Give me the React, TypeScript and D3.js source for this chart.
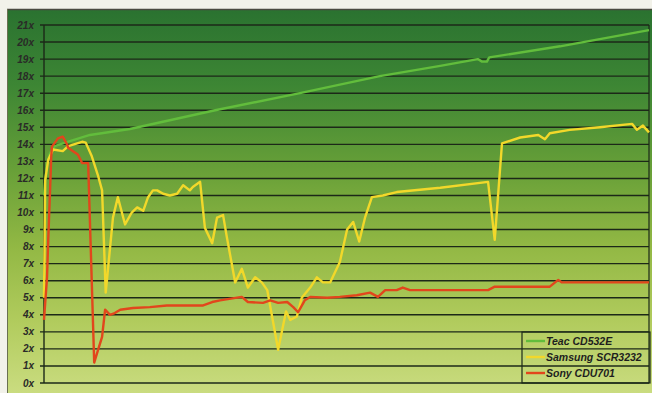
import React from "react";
import * as d3 from "d3";

// x positions are in % of the run (no axis labels in the original)
const teacX = [0, 0.2, 0.5, 1.0, 1.8, 3.5, 7.6, 14.2, 28.3, 42.3, 55.5, 65.5, 71.7, 72.4, 73.2, 73.6, 85.3, 100];
const teacY = [11.0, 11.8, 12.8, 13.5, 13.9, 14.1, 14.55, 14.9, 16.0, 17.0, 18.0, 18.6, 19.0, 18.85, 18.85, 19.1, 19.75, 20.7];

const samsungX = [0, 0.2, 0.7, 1.5, 3.1, 4.0, 6.3, 6.9, 7.9, 8.9, 9.6, 10.2, 11.4, 12.2, 13.4, 14.5, 15.4, 16.4, 17.2, 18.0, 18.7, 19.7, 20.8, 22.0, 23.0, 24.1, 24.6, 25.8, 26.6, 27.8, 28.6, 29.6, 30.2, 31.6, 32.7, 33.7, 34.9, 36.0, 36.9, 37.7, 38.7, 40.0, 40.7, 41.8, 42.6, 44.0, 45.1, 46.1, 47.3, 48.9, 50.1, 51.1, 52.1, 53.1, 54.2, 56.0, 58.3, 65.5, 73.4, 74.5, 75.7, 78.7, 81.7, 82.8, 83.6, 86.9, 91.9, 97.2, 98.0, 99.0, 100];
const samsungY = [5.0, 11.9, 13.1, 13.7, 13.6, 13.9, 14.15, 14.1, 13.3, 12.2, 11.3, 5.3, 9.7, 10.9, 9.3, 10.0, 10.3, 10.1, 10.9, 11.3, 11.3, 11.1, 11.0, 11.1, 11.6, 11.3, 11.5, 11.8, 9.1, 8.2, 9.7, 9.85, 8.6, 5.9, 6.7, 5.6, 6.2, 5.9, 5.45, 3.9, 1.95, 4.2, 3.7, 3.9, 5.0, 5.6, 6.2, 5.9, 5.9, 7.1, 9.0, 9.45, 8.3, 9.75, 10.9, 11.0, 11.2, 11.45, 11.8, 8.4, 14.05, 14.4, 14.55, 14.3, 14.65, 14.85, 15.0, 15.2, 14.85, 15.1, 14.7];

const sonyX = [0, 0.5, 0.7, 1.0, 1.2, 1.3, 1.8, 2.3, 3.1, 3.8, 4.0, 4.8, 5.6, 6.3, 7.3, 8.3, 8.9, 9.6, 10.1, 10.9, 11.7, 12.6, 14.7, 17.5, 20.3, 26.3, 27.8, 29.1, 32.7, 33.7, 36.2, 37.4, 38.7, 40.2, 41.2, 42.0, 43.1, 44.0, 46.8, 48.9, 51.7, 53.9, 55.2, 56.4, 58.3, 59.3, 60.5, 73.4, 74.5, 83.6, 85.0, 85.6, 100];
const sonyY = [3.7, 6.2, 8.4, 11.3, 13.3, 13.85, 14.1, 14.35, 14.45, 14.0, 13.8, 13.6, 13.4, 12.9, 12.9, 1.2, 1.9, 2.7, 4.3, 4.0, 4.1, 4.3, 4.4, 4.45, 4.55, 4.55, 4.75, 4.85, 5.05, 4.75, 4.7, 4.85, 4.7, 4.75, 4.45, 4.15, 4.85, 5.05, 5.0, 5.05, 5.15, 5.3, 5.05, 5.45, 5.45, 5.6, 5.45, 5.45, 5.65, 5.65, 6.05, 5.9, 5.9];

const yTicks = d3.range(0, 22);
const seriesNames = ["Teac CD532E", "Samsung SCR3232", "Sony CDU701"];
const seriesColors = ["#62bd3c", "#f2d82a", "#e2461c"];

export default function App() {
  const W = 652, H = 393;
  const x = d3.scaleLinear().domain([0, 100]).range([44, 649]);
  const y = d3.scaleLinear().domain([0, 21]).range([383, 25]);
  const line = d3.line<[number, number]>().x(d => x(d[0])).y(d => y(d[1])).curve(d3.curveLinear);
  const series = [
    teacX.map((v, i) => [v, teacY[i]] as [number, number]),
    samsungX.map((v, i) => [v, samsungY[i]] as [number, number]),
    sonyX.map((v, i) => [v, sonyY[i]] as [number, number]),
  ];
  const font = "'Liberation Sans', Arial, sans-serif";
  return (
    <div style={{ position: "fixed", left: 0, top: 0 }}>
      <svg width={W} height={H} style={{ display: "block" }}>
        <defs>
          <linearGradient id="bg" x1="0" y1="0" x2="0" y2="1">
            <stop offset="0" stopColor="#2a7230" />
            <stop offset="0.2" stopColor="#3d8634" />
            <stop offset="0.42" stopColor="#68a038" />
            <stop offset="0.62" stopColor="#92b844" />
            <stop offset="0.82" stopColor="#b2cc5e" />
            <stop offset="1" stopColor="#cadc80" />
          </linearGradient>
        </defs>
        <rect x={0} y={0} width={W} height={H} fill="#f2f2ea" />
        <rect x={7} y={9} width={W - 7} height={H - 9} fill="url(#bg)" />
        <line x1={7} x2={W} y1={9.5} y2={9.5} stroke="#4a4a40" strokeWidth={1.5} />
        <line x1={7.5} x2={7.5} y1={9} y2={H} stroke="#6a7050" strokeWidth={1} />
        {yTicks.map(t => (
          <g key={t}>
            <line x1={40} x2={649} y1={y(t)} y2={y(t)} stroke="#1c2818" strokeWidth={1.4} />
            <text x={34} y={y(t) + 3.5} textAnchor="end" fontFamily={font} fontSize={10}
              fontWeight="bold" fontStyle="italic" fill="#2a2a28">{t}x</text>
          </g>
        ))}
        <line x1={44} x2={44} y1={y(21)} y2={y(0)} stroke="#1c2818" strokeWidth={1.4} />
        <line x1={649} x2={649} y1={y(21)} y2={y(0)} stroke="#1c2818" strokeWidth={1.2} />
        {series.map((s, i) => (
          <path key={i} d={line(s) ?? ""} fill="none" stroke={seriesColors[i]} strokeWidth={2.4}
            strokeLinejoin="round" />
        ))}
        <rect x={522} y={332} width={128} height={51} fill="none" stroke="#1c2818" strokeWidth={1.2} />
        {seriesNames.map((n, i) => (
          <g key={n}>
            <line x1={526} x2={545} y1={341 + i * 16} y2={341 + i * 16} stroke={seriesColors[i]} strokeWidth={2.4} />
            <text x={546} y={345 + i * 16} fontFamily={font} fontSize={10.5} fontWeight="bold"
              fontStyle="italic" fill="#1e1e1e">{n}</text>
          </g>
        ))}
      </svg>
    </div>
  );
}
